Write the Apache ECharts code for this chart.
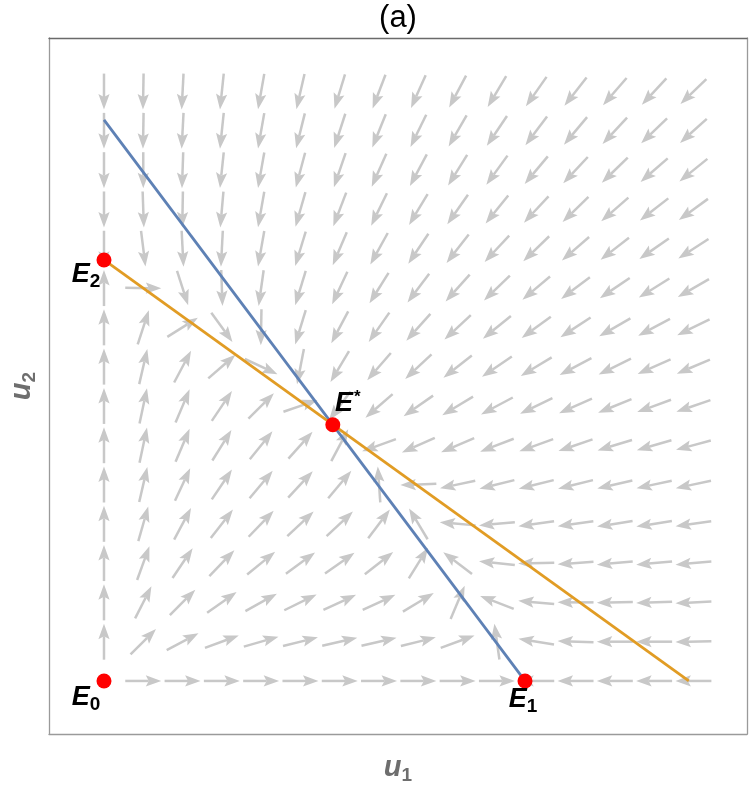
<!DOCTYPE html>
<html>
<head>
<meta charset="utf-8">
<script src="https://cdn.jsdelivr.net/npm/echarts@6/dist/echarts.min.js"></script>
<style>
html, body { margin: 0; padding: 0; background: #fff; }
#phase { width: 750px; height: 788px; }
</style>
</head>
<body>
<div id="phase"></div>
<script>
// grid of the direction field (u1 columns, u2 rows)
var fieldU1 = [0, 0.0933, 0.1867, 0.28, 0.3733, 0.4667, 0.56, 0.6533, 0.7467, 0.84, 0.9333, 1.0267, 1.12, 1.2133, 1.3067, 1.4];
var fieldU2 = [0, 0.0933, 0.1867, 0.28, 0.3733, 0.4667, 0.56, 0.6533, 0.7467, 0.84, 0.9333, 1.0267, 1.12, 1.2133, 1.3067, 1.4];

// arrow direction in degrees, one row per u2 value (bottom row first)
var fieldAngle = [
    [null, 0, 0, 0, 0, 0, 0, 0, 0, 0, 0, 180, 180, 180, 180, 180],
    [90, 45, 28, 20, 16, 14, 13, 13, 14, 20, 98, 171, 178, 180, -180, -179],
    [90, 63, 45, 35, 29, 26, 25, 25, 31, 67, 159, 175, 180, -179, -178, -177],
    [90, 70, 56, 46, 39, 36, 35, 38, 58, 143, 174, -179, -176, -175, -175, -175],
    [90, 74, 62, 52, 46, 43, 43, 53, 121, 175, -175, -172, -172, -171, -171, -172],
    [90, 77, 65, 56, 50, 47, 50, 94, -178, -168, -166, -166, -166, -167, -168, -168],
    [90, 78, 67, 58, 51, 48, 62, -160, -156, -157, -159, -160, -161, -163, -164, -165],
    [90, 78, 67, 56, 45, 19, -127, -139, -145, -149, -152, -154, -156, -158, -160, -161],
    [90, 77, 62, 41, -25, -101, -121, -131, -137, -142, -146, -149, -152, -154, -156, -157],
    [90, 72, 32, -54, -91, -107, -118, -125, -132, -137, -141, -144, -147, -150, -152, -154],
    [90, -1, -72, -88, -98, -107, -115, -122, -127, -132, -136, -140, -143, -146, -148, -150],
    [-90, -83, -87, -93, -100, -107, -113, -119, -124, -128, -133, -136, -139, -142, -145, -147],
    [-90, -88, -91, -95, -100, -106, -111, -116, -121, -125, -129, -133, -136, -139, -142, -144],
    [-90, -90, -92, -96, -100, -105, -109, -114, -118, -122, -126, -130, -133, -136, -139, -141],
    [-90, -91, -93, -96, -100, -104, -108, -112, -116, -120, -124, -127, -130, -133, -136, -138],
    [-90, -91, -93, -96, -100, -103, -107, -111, -114, -118, -121, -125, -128, -131, -133, -136]
];

// nullclines
var blueU1 = [0, 1];
var blueU2 = [1.333, 0];
var orangeU1 = [0, 1.389];
var orangeU2 = [1, 0];

// equilibria
var eqName = ['0', '1', '2', '*'];
var eqU1 = [0, 1, 0, 0.5435];
var eqU2 = [0, 0, 1, 0.6087];

var FONT = '"Liberation Sans", Arial, sans-serif';
var ARROW = '#c8c8c8';

function pairs(xs, ys) {
    var out = [];
    for (var i = 0; i < xs.length; i++) out.push([xs[i], ys[i]]);
    return out;
}

function fieldData() {
    var out = [];
    for (var j = 0; j < fieldU2.length; j++) {
        for (var i = 0; i < fieldU1.length; i++) {
            if (fieldAngle[j][i] === null) continue;
            out.push([fieldU1[i], fieldU2[j], fieldAngle[j][i]]);
        }
    }
    return out;
}

function renderArrow(params, api) {
    var c = api.coord([api.value(0), api.value(1)]);
    var a = api.value(2) * Math.PI / 180;
    var dx = Math.cos(a), dy = -Math.sin(a);
    var half = 18, head = 15.5, hw = 5.6;
    var tip = [c[0] + dx * half, c[1] + dy * half];
    var tail = [c[0] - dx * half, c[1] - dy * half];
    var base = [tip[0] - dx * head, tip[1] - dy * head];
    var notch = [tip[0] - dx * (head - 3), tip[1] - dy * (head - 3)];
    var px = -dy, py = dx;
    return {
        type: 'group',
        children: [{
            type: 'line',
            shape: { x1: tail[0], y1: tail[1], x2: notch[0], y2: notch[1] },
            style: { stroke: ARROW, lineWidth: 2.5 }
        }, {
            type: 'polygon',
            shape: { points: [tip, [base[0] + px * hw, base[1] + py * hw], notch, [base[0] - px * hw, base[1] - py * hw]] },
            style: { fill: ARROW }
        }]
    };
}

// where each E label sits relative to its point
var eqLabelOffset = { '0': [-18, 20], '1': [-2, 22], '2': [-18, 18], '*': [15, -18] };

function eqData() {
    var out = [];
    for (var i = 0; i < eqName.length; i++) {
        out.push({
            value: [eqU1[i], eqU2[i]],
            label: {
                formatter: eqName[i] === '*' ? '{e|E}{p|*}' : '{e|E}{s|' + eqName[i] + '}',
                offset: eqLabelOffset[eqName[i]]
            }
        });
    }
    return out;
}

var chart = echarts.init(document.getElementById('phase'));

var frameAxis = {
    show: true,
    axisLine: { show: true, onZero: false, lineStyle: { color: '#9a9a9a', width: 1.3 } },
    axisTick: { show: false },
    axisLabel: { show: false },
    splitLine: { show: false }
};

var nameRich = {
    u: { fontSize: 29, lineHeight: 29, fontWeight: 'bold', fontStyle: 'italic', color: '#6e6e6e', fontFamily: FONT, verticalAlign: 'bottom', padding: [0, 0, 3, 0] },
    s: { fontSize: 19, lineHeight: 19, fontWeight: 'bold', color: '#6e6e6e', fontFamily: FONT, verticalAlign: 'bottom' }
};

chart.setOption({
    animation: false,
    graphic: [{
        type: 'text',
        x: 398,
        y: 18,
        style: { text: '(a)', font: '31px ' + FONT, fill: '#000', textAlign: 'center', textVerticalAlign: 'middle' }
    }],
    grid: { left: 49, right: 3, top: 38, bottom: 54, containLabel: false, outerBoundsMode: 'none' },
    xAxis: [
        Object.assign({}, frameAxis, {
            type: 'value', min: -0.1306, max: 1.5273, position: 'bottom',
            name: '{u|u}{s|1}', nameLocation: 'middle', nameGap: 22,
            nameTextStyle: { rich: nameRich }
        }),
        Object.assign({}, frameAxis, {
            type: 'value', min: -0.1306, max: 1.5273, position: 'top',
            axisLine: { show: true, onZero: false, lineStyle: { color: '#6a6a6a', width: 1.3 } }
        })
    ],
    yAxis: [
        Object.assign({}, frameAxis, {
            type: 'value', min: -0.126, max: 1.5273, position: 'left',
            name: '{u|u}{s|2}', nameLocation: 'middle', nameGap: 10,
            nameTextStyle: { rich: nameRich }
        }),
        Object.assign({}, frameAxis, {
            type: 'value', min: -0.126, max: 1.5273, position: 'right'
        })
    ],
    series: [
        {
            name: 'field',
            type: 'custom',
            renderItem: renderArrow,
            encode: { x: 0, y: 1 },
            data: fieldData(),
            z: 1
        },
        {
            name: 'nullcline u1',
            type: 'line',
            data: pairs(blueU1, blueU2),
            symbol: 'none',
            lineStyle: { color: '#5e81b5', width: 2.8 },
            z: 3
        },
        {
            name: 'nullcline u2',
            type: 'line',
            data: pairs(orangeU1, orangeU2),
            symbol: 'none',
            lineStyle: { color: '#e19c24', width: 2.8 },
            z: 3
        },
        {
            name: 'equilibria',
            type: 'scatter',
            data: eqData(),
            symbolSize: 15,
            itemStyle: { color: '#ff0000', opacity: 1 },
            label: {
                show: true,
                position: 'inside',
                rich: {
                    e: { fontSize: 27, lineHeight: 27, fontWeight: 'bold', fontStyle: 'italic', color: '#000', fontFamily: FONT, verticalAlign: 'bottom', padding: [0, 0, 3, 0] },
                    s: { fontSize: 19, lineHeight: 19, fontWeight: 'bold', color: '#000', fontFamily: FONT, verticalAlign: 'bottom' },
                    p: { fontSize: 17, lineHeight: 17, fontWeight: 'bold', color: '#000', fontFamily: FONT, verticalAlign: 'bottom', padding: [0, 0, 14, 1] }
                }
            },
            z: 5
        }
    ]
});
</script>
</body>
</html>
